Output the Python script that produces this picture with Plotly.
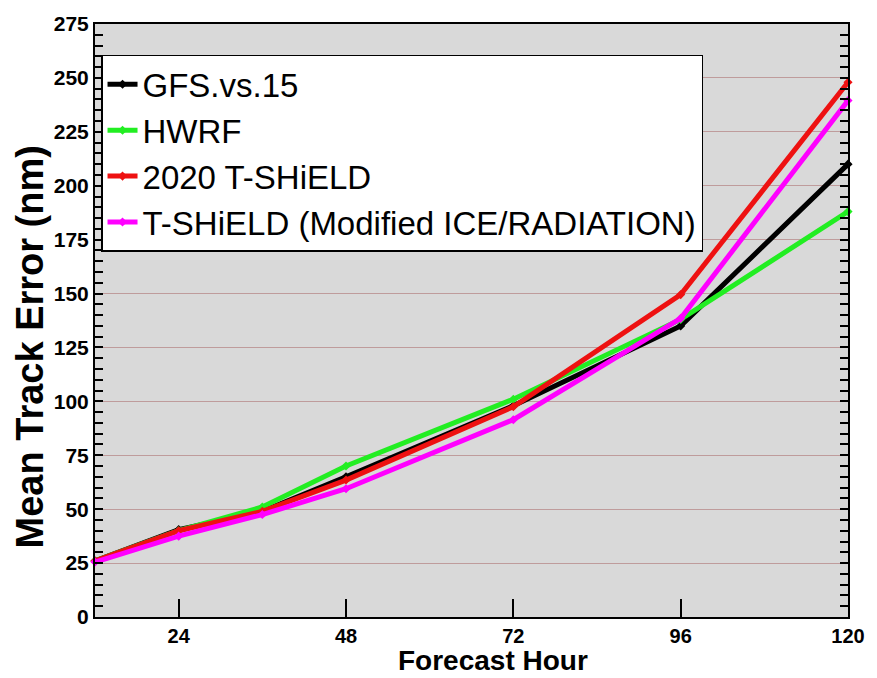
import plotly.graph_objects as go

hours = [12, 24, 36, 48, 72, 96, 120]
gfs = [26, 40.5, 49, 65, 98, 135, 210]
hwrf = [26, 40, 51, 70, 101, 138, 188]
tshield_2020 = [26, 40, 49, 63.5, 97.5, 149.5, 248]
tshield_mod = [25.5, 37.5, 47.5, 59.5, 91.5, 138.5, 239.5]

names = ["GFS.vs.15", "HWRF", "2020 T-SHiELD", "T-SHiELD (Modified ICE/RADIATION)"]
colors = ["#000000", "#22ee22", "#ee1111", "#ff00ff"]
series = [gfs, hwrf, tshield_2020, tshield_mod]

x_ticks = [24, 48, 72, 96, 120]
y_ticks = list(range(0, 276, 25))

FONT = "Liberation Sans, Arial, sans-serif"

fig = go.Figure()
for name, col, ys in zip(names, colors, series):
    fig.add_trace(go.Scatter(
        x=hours, y=ys, name=name, mode="lines+markers",
        line=dict(color=col, width=5),
        marker=dict(color=col, size=7, symbol="diamond"),
        cliponaxis=False,
    ))

fig.update_layout(
    width=877, height=678,
    margin=dict(l=95, r=23, t=15, b=61),
    paper_bgcolor="white",
    plot_bgcolor="#d9d9d9",
    showlegend=True,
    legend=dict(
        x=0.008, y=0.948, xanchor="left", yanchor="top",
        bgcolor="white", bordercolor="black", borderwidth=1.5,
        font=dict(family=FONT, size=33, color="black"),
        tracegroupgap=0,
    ),
    xaxis=dict(
        range=[12, 120], tickvals=x_ticks, ticktext=[str(v) for v in x_ticks],
        ticks="inside", ticklen=18, tickwidth=1.5, tickcolor="black",
        showline=True, linecolor="black", linewidth=2, mirror=True,
        showgrid=False, zeroline=False,
        tickfont=dict(family=FONT, size=20, color="black", weight="bold"),
    ),
    yaxis=dict(
        range=[0, 275], tickvals=y_ticks,
        ticks="inside", ticklen=8, tickwidth=1.5, tickcolor="black",
        minor=dict(dtick=5, ticks="inside", ticklen=8, tickwidth=1.5, tickcolor="black", showgrid=False),
        showline=True, linecolor="black", linewidth=2, mirror="ticks",
        showgrid=True, gridcolor="#bf9c9c", gridwidth=1.2, zeroline=False,
        tickfont=dict(family=FONT, size=21, color="black", weight="bold"),
    ),
    annotations=[
        dict(
            text="<b>Forecast Hour</b>", xref="paper", yref="paper",
            x=0.528, y=-0.0735, xanchor="center", yanchor="middle", showarrow=False,
            font=dict(family=FONT, size=28, color="black"), borderpad=0,
        ),
        dict(
            text="<b>Mean Track Error (nm)</b>", xref="paper", yref="paper",
            x=-0.086, y=0.455, xanchor="center", yanchor="middle", showarrow=False,
            textangle=-90,
            font=dict(family=FONT, size=38, color="black"),
        ),
    ],
)

fig.write_html("out.html")
